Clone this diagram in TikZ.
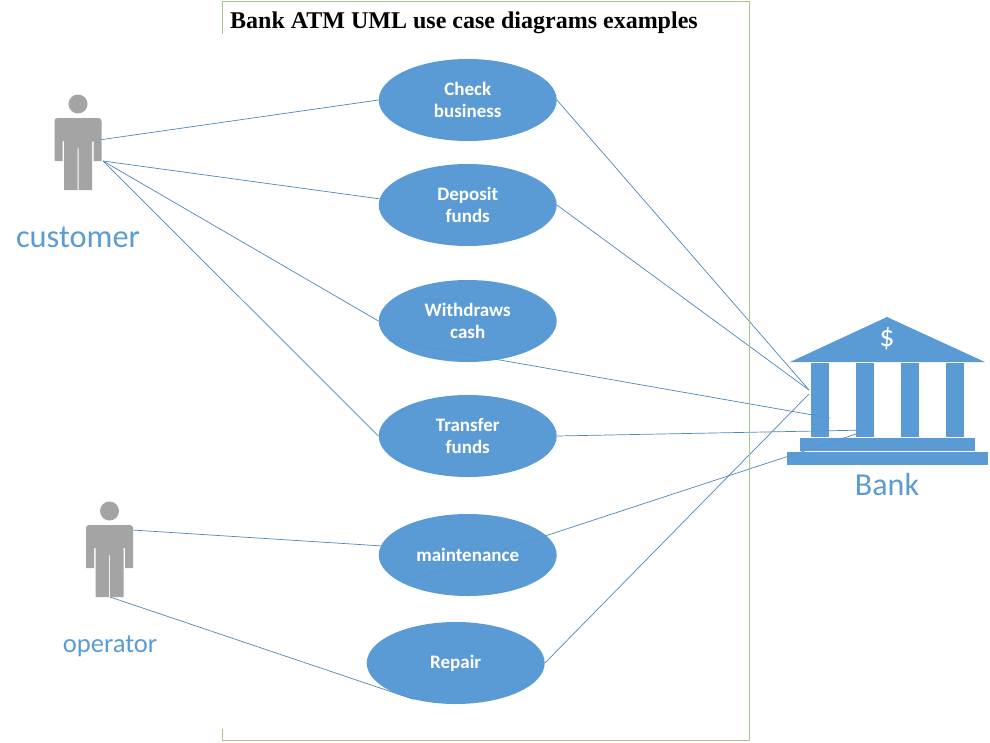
\documentclass[tikz,border=0pt]{standalone}
\usepackage{fontspec}
\setmainfont{Carlito}
\newfontfamily\titlefont{Liberation Serif}
\usetikzlibrary{shapes.geometric,backgrounds}

\definecolor{usecase}{HTML}{5296D3}
\definecolor{labelblue}{HTML}{5B9BD5}
\definecolor{actorgray}{HTML}{9F9F9F}
\definecolor{framegreen}{HTML}{A9C48C}
\definecolor{linkblue}{HTML}{4F86B8}

\tikzset{
  usecasenode/.style={ellipse, fill=usecase, fill opacity=.95, text opacity=1, text=white, inner sep=0pt,
    minimum width=178pt, minimum height=82pt, align=center, font=\fontsize{19}{22}\selectfont\bfseries},
  link/.style={draw=linkblue, line width=.7pt},
  actorname/.style={text=labelblue, inner sep=0pt},
  bankpart/.style={fill=usecase, fill opacity=.95},
  person/.pic={
    \fill[actorgray, fill opacity=.95] (0,0) circle (9.5);
    \fill[actorgray, fill opacity=.95] (-23.5,57) [rounded corners=3pt] -- (-23.5,14) -- (23.5,14) [sharp corners] -- (23.5,57)
       -- (15.5,57) -- (15.5,37) -- (14,37) -- (14,86) -- (0.5,86) -- (0.5,44) -- (-0.5,44) -- (-0.5,86)
       -- (-14,86) -- (-14,37) -- (-15.5,37) -- (-15.5,57) -- cycle;
  }
}

\begin{document}
\begin{tikzpicture}[x=1pt,y=-1pt]

\useasboundingbox (0,0) rectangle (990,742);

% the frame has no left side between the title and the bottom corner
\draw[framegreen, line width=1pt] (222,34) -- (222,1.5) -- (749,1.5) -- (749,740) -- (222,740) -- (222,729);
\node[font=\titlefont\bfseries\fontsize{24}{24}\selectfont, inner sep=0pt] (title) at (464,23) {Bank ATM UML use case diagrams examples};

\node[usecasenode] (check) at (467.7,100) {Check\\business};
\node[usecasenode] (deposit) at (467.7,205) {Deposit\\funds};
\node[usecasenode] (withdraws) at (467.7,321) {Withdraws\\cash};
\node[usecasenode] (transfer) at (467.7,436) {Transfer\\funds};
\node[usecasenode] (maintenance) at (467.7,555) {maintenance};
\node[usecasenode] (repair) at (455.7,663) {Repair};

% actors
\pic at (78,104) {person};
\pic at (109.5,511) {person};
\node[actorname, font=\fontsize{32.4}{32.4}\selectfont] (customer) at (78,237) {customer};
\node[actorname, font=\fontsize{26.6}{26.6}\selectfont] (operator) at (110,646) {operator};

\coordinate (customerbody) at (92,141);
\coordinate (customerarm) at (103,161);
\coordinate (operatorarm) at (132,530);
\coordinate (operatorfoot) at (110,597);

% bank
\fill[bankpart] (887,317) -- (985,362) -- (790,362) -- cycle;
\foreach \X in {811,856,901,946}{
    \fill[bankpart] (\X,363) rectangle (\X+18,437);
}
\fill[bankpart] (800,438) rectangle (975,451);
\fill[bankpart] (787,452) rectangle (988,465);
\node[text=white, inner sep=0pt, font=\fontsize{30}{30}\selectfont] (dollar) at (887,339) {\$};
\node[actorname, font=\fontsize{32}{32}\selectfont] (bank) at (887,484) {Bank};

\coordinate (bankA) at (809,390);
\coordinate (bankB) at (830,418);
\coordinate (bankC) at (868,430);
\coordinate (bankD) at (856,434);
\coordinate (bankE) at (809,394);

\begin{pgfonlayer}{background}
\draw[link] (customerbody) -- (check.west);
\draw[link] (customerarm) -- (deposit.176.8);
\draw[link] (customerarm) -- (withdraws.west);
\draw[link] (customerarm) -- (transfer.west);
\draw[link] (operatorarm) -- (maintenance.174);
\draw[link] (operatorfoot) -- (repair.221);
\draw[link] (check.east) -- (bankA);
\draw[link] (deposit.east) -- (bankA);
\draw[link] (withdraws.194) -- (bankB);
\draw[link] (transfer.east) -- (bankC);
\draw[link] (maintenance.203) -- (bankD);
\draw[link] (repair.east) -- (bankE);
\end{pgfonlayer}

\end{tikzpicture}
\end{document}
